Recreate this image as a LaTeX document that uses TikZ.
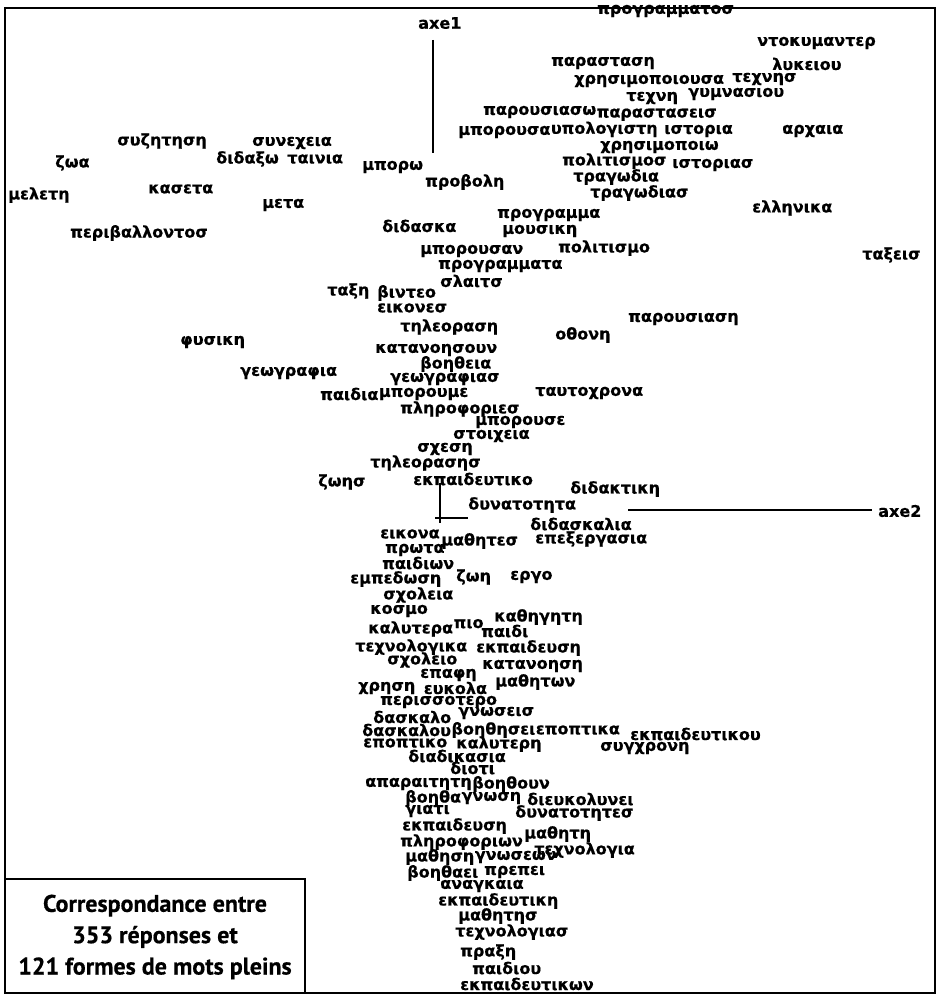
\documentclass[tikz,border=0pt]{standalone}
\usepackage{fontspec}
\setmainfont{DejaVu Sans}[BoldFeatures={FakeBold=0.5}]
\newfontfamily\boxfont{PT Sans}[BoldFeatures={FakeBold=0.5}]
\usetikzlibrary{positioning}

\begin{document}
\begin{tikzpicture}
	[x=0.75pt, y=-0.75pt,
	wordstyle/.style={font=\bfseries\fontsize{12}{13}\selectfont, inner sep=0pt, anchor=west},
	titlestyle/.style={font=\boxfont\bfseries\fontsize{18}{23.5}\selectfont, align=center, inner sep=0pt},
	axisstyle/.style={line width=1.5pt},
	framestyle/.style={line width=1.6pt}
	]
	
	%Set params
	\def\gap{0pt}
	\def\wgap{6pt}
	
	\useasboundingbox (0,0) rectangle (940,995);
	\draw[framestyle] (5,8) rectangle (935,993);
	
	%Axes
	\node(AxeOne)[wordstyle] at (418,23){axe1};
	\coordinate(AxeOneTop) at (433,40);
	\coordinate(AxeOneBot) at (433,153);
	\draw[axisstyle] (AxeOneTop) -- (AxeOneBot);
	\node(AxeTwo)[wordstyle] at (878,511){axe2};
	\coordinate(AxeTwoLeft) at (628,510);
	\coordinate(AxeTwoRight) at (872,510);
	\draw[axisstyle] (AxeTwoLeft) -- (AxeTwoRight);
	\coordinate(OrigTop) at (440,483);
	\coordinate(OrigLow) at (440,523);
	\coordinate(OrigLeft) at (435,518);
	\coordinate(OrigRight) at (468,518);
	\draw[axisstyle] (OrigTop) -- (OrigLow);
	\draw[axisstyle] (OrigLeft) -- (OrigRight);
	
	%Upper words
	\node(Programmatos)[wordstyle] at (597,11){προγραμματοσ};
	\node(Ntokymanter)[wordstyle] at (757,43){ντοκυμαντερ};
	\node(Parastasi)[wordstyle] at (551,63){παρασταση};
	\node(Lykeiou)[wordstyle] at (772,64){λυκειου};
	\node(Xrisimopoiousa)[wordstyle] at (574,81){χρησιμοποιουσα};
	\node(Texnis)[wordstyle] at (732,79){τεχνησ};
	\node(Texni)[wordstyle] at (626,98){τεχνη};
	\node(Gymnasiou)[wordstyle] at (688,94){γυμνασιου};
	\node(Parousiaso)[wordstyle] at (483,112){παρουσιασω};
	\node(Parastaseis)[wordstyle, right = \gap of Parousiaso, yshift=-2pt]{παραστασεισ};
	\node(Mporousa)[wordstyle] at (458,132){μπορουσα};
	\node(Ypologisti)[wordstyle, right = \gap of Mporousa, yshift=2pt]{υπολογιστη};
	\node(Istoria)[wordstyle] at (664,131){ιστορια};
	\node(Arxaia)[wordstyle] at (782,131){αρχαια};
	\node(Xrisimopoio)[wordstyle] at (600,147){χρησιμοποιω};
	\node(Politismos)[wordstyle] at (562,161){πολιτισμοσ};
	\node(Istorias)[wordstyle] at (672,165){ιστοριασ};
	\node(Tragodia)[wordstyle] at (573,177){τραγωδια};
	\node(Tragodias)[wordstyle] at (590,193){τραγωδιασ};
	\node(Mporo)[wordstyle] at (362,167){μπορω};
	\node(Provoli)[wordstyle] at (425,182){προβολη};
	
	%Left words
	\node(Syzitisi)[wordstyle] at (117,141){συζητηση};
	\node(Synexeia)[wordstyle] at (252,143){συνεχεια};
	\node(Didakso)[wordstyle] at (216,159){διδαξω};
	\node(Tainia)[wordstyle, right = \wgap of Didakso]{ταινια};
	\node(Zoa)[wordstyle] at (55,163){ζωα};
	\node(Meleti)[wordstyle] at (8,195){μελετη};
	\node(Kaseta)[wordstyle] at (148,189){κασετα};
	\node(Meta)[wordstyle] at (262,205){μετα};
	\node(Perivallontos)[wordstyle] at (70,233){περιβαλλοντοσ};
	\node(Didaska)[wordstyle] at (382,226){διδασκα};
	
	%Middle words
	\node(Ellinika)[wordstyle] at (752,208){ελληνικα};
	\node(Programma)[wordstyle] at (497,215){προγραμμα};
	\node(Mousiki)[wordstyle] at (502,231){μουσικη};
	\node(Mporousan)[wordstyle] at (420,251){μπορουσαν};
	\node(Politismo)[wordstyle] at (558,248){πολιτισμο};
	\node(Programmata)[wordstyle] at (438,266){προγραμματα};
	\node(Slaits)[wordstyle] at (440,281){σλαιτσ};
	\node(Takseis)[wordstyle] at (862,255){ταξεισ};
	\node(Taksi)[wordstyle] at (327,291){ταξη};
	\node(Vinteo)[wordstyle] at (377,293){βιντεο};
	\node(Eikones)[wordstyle] at (377,308){εικονεσ};
	\node(Tileorasi)[wordstyle] at (400,327){τηλεοραση};
	\node(Parousiasi)[wordstyle] at (628,319){παρουσιαση};
	\node(Othoni)[wordstyle] at (555,335){οθονη};
	\node(Fysiki)[wordstyle] at (180,342){φυσικη};
	\node(Katanoisoun)[wordstyle] at (375,350){κατανοησουν};
	\node(Voitheia)[wordstyle] at (420,364){βοηθεια};
	\node(Geografia)[wordstyle] at (240,373){γεωγραφια};
	\node(Geografias)[wordstyle] at (390,379){γεωγραφιασ};
	\node(Paidia)[wordstyle] at (320,394){παιδια};
	\node(Mporoume)[wordstyle, right = \gap of Paidia]{μπορουμε};
	\node(Taytoxrona)[wordstyle] at (535,393){ταυτοχρονα};
	\node(Plirofories)[wordstyle] at (400,409){πληροφοριεσ};
	\node(Mporouse)[wordstyle] at (475,422){μπορουσε};
	\node(Stoixeia)[wordstyle] at (453,436){στοιχεια};
	\node(Sxesi)[wordstyle] at (417,449){σχεση};
	\node(Tileorasis)[wordstyle] at (370,463){τηλεορασησ};
	\node(Ekpaideytiko)[wordstyle] at (413,479){εκπαιδευτικο};
	\node(Zois)[wordstyle] at (318,482){ζωησ};
	\node(Didaktiki)[wordstyle] at (570,489){διδακτικη};
	\node(Dynatotita)[wordstyle] at (468,505){δυνατοτητα};
	\node(Didaskalia)[wordstyle] at (530,524){διδασκαλια};
	
	%Lower words
	\node(Eikona)[wordstyle] at (380,534){εικονα};
	\node(Prota)[wordstyle] at (385,550){πρωτα};
	\node(Mathites)[wordstyle] at (441,541){μαθητεσ};
	\node(Epeksergasia)[wordstyle] at (535,539){επεξεργασια};
	\node(Paidion)[wordstyle] at (382,563){παιδιων};
	\node(Empedosi)[wordstyle] at (350,579){εμπεδωση};
	\node(Zoi)[wordstyle] at (456,577){ζωη};
	\node(Ergo)[wordstyle] at (510,577){εργο};
	\node(Sxoleia)[wordstyle] at (383,595){σχολεια};
	\node(Kosmo)[wordstyle] at (370,611){κοσμο};
	\node(Kalytera)[wordstyle] at (368,629){καλυτερα};
	\node(Pio)[wordstyle, right = \gap of Kalytera, yshift=4pt]{πιο};
	\node(Kathigiti)[wordstyle] at (494,617){καθηγητη};
	\node(Paidi)[wordstyle] at (481,631){παιδι};
	\node(Texnologika)[wordstyle] at (355,647){τεχνολογικα};
	\node(Ekpaideysi)[wordstyle] at (476,648){εκπαιδευση};
	\node(Sxoleio)[wordstyle] at (387,660){σχολειο};
	\node(Epafi)[wordstyle] at (420,675){επαφη};
	\node(Katanoisi)[wordstyle] at (482,666){κατανοηση};
	\node(Xrisi)[wordstyle] at (358,688){χρηση};
	\node(Eykola)[wordstyle, right = \wgap of Xrisi]{ευκολα};
	\node(Mathiton)[wordstyle] at (495,682){μαθητων};
	\node(Perissotero)[wordstyle] at (380,702){περισσοτερο};
	\node(Daskalo)[wordstyle] at (373,717){δασκαλο};
	\node(Gnoseis)[wordstyle] at (458,713){γνωσεισ};
	\node(Daskalou)[wordstyle] at (362,730){δασκαλου};
	\node(Voithisei)[wordstyle, right = \gap of Daskalou]{βοηθησει};
	\node(Epoptika)[wordstyle, right = \gap of Voithisei]{εποπτικα};
	\node(Ekpaideytikou)[wordstyle] at (630,734){εκπαιδευτικου};
	\node(Sygxroni)[wordstyle] at (600,748){συγχρονη};
	\node(Epoptiko)[wordstyle] at (363,743){εποπτικο};
	\node(Kalyteri)[wordstyle] at (456,744){καλυτερη};
	\node(Diadikasia)[wordstyle] at (408,756){διαδικασια};
	\node(Dioti)[wordstyle] at (450,768){διοτι};
	\node(Aparaititi)[wordstyle] at (365,784){απαραιτητη};
	\node(Voithoun)[wordstyle, right = \gap of Aparaititi]{βοηθουν};
	\node(Voitha)[wordstyle] at (405,798){βοηθα};
	\node(Gnosi)[wordstyle, right = \gap of Voitha]{γνωση};
	\node(Giati)[wordstyle] at (405,811){γιατι};
	\node(Dieykolynei)[wordstyle] at (527,799){διευκολυνει};
	\node(Dynatotites)[wordstyle] at (515,813){δυνατοτητεσ};
	\node(EkpaideysiB)[wordstyle] at (402,826){εκπαιδευση};
	\node(Pliroforion)[wordstyle] at (400,842){πληροφοριων};
	\node(Mathiti)[wordstyle] at (524,834){μαθητη};
	\node(Texnologia)[wordstyle] at (534,850){τεχνολογια};
	\node(Mathisi)[wordstyle] at (405,857){μαθηση};
	\node(Gnoseon)[wordstyle, right = \gap of Mathisi]{γνωσεων};
	\node(Voithaei)[wordstyle] at (407,873){βοηθαει};
	\node(Prepei)[wordstyle] at (484,872){πρεπει};
	\node(Anagkaia)[wordstyle] at (440,886){αναγκαια};
	\node(Ekpaideytiki)[wordstyle] at (438,901){εκπαιδευτικη};
	\node(Mathitis)[wordstyle] at (458,916){μαθητησ};
	\node(Texnologias)[wordstyle] at (455,932){τεχνολογιασ};
	\node(Praksi)[wordstyle] at (460,952){πραξη};
	\node(Paidiou)[wordstyle] at (472,968){παιδιου};
	\node(Ekpaideytikon)[wordstyle] at (460,984){εκπαιδευτικων};
	
	%Title box
	\draw[framestyle] (5,879) rectangle (305,993);
	\node(Title)[titlestyle] at (155,937){Correspondance entre\\353 réponses et\\121 formes de mots pleins};
	
\end{tikzpicture}
\end{document}
